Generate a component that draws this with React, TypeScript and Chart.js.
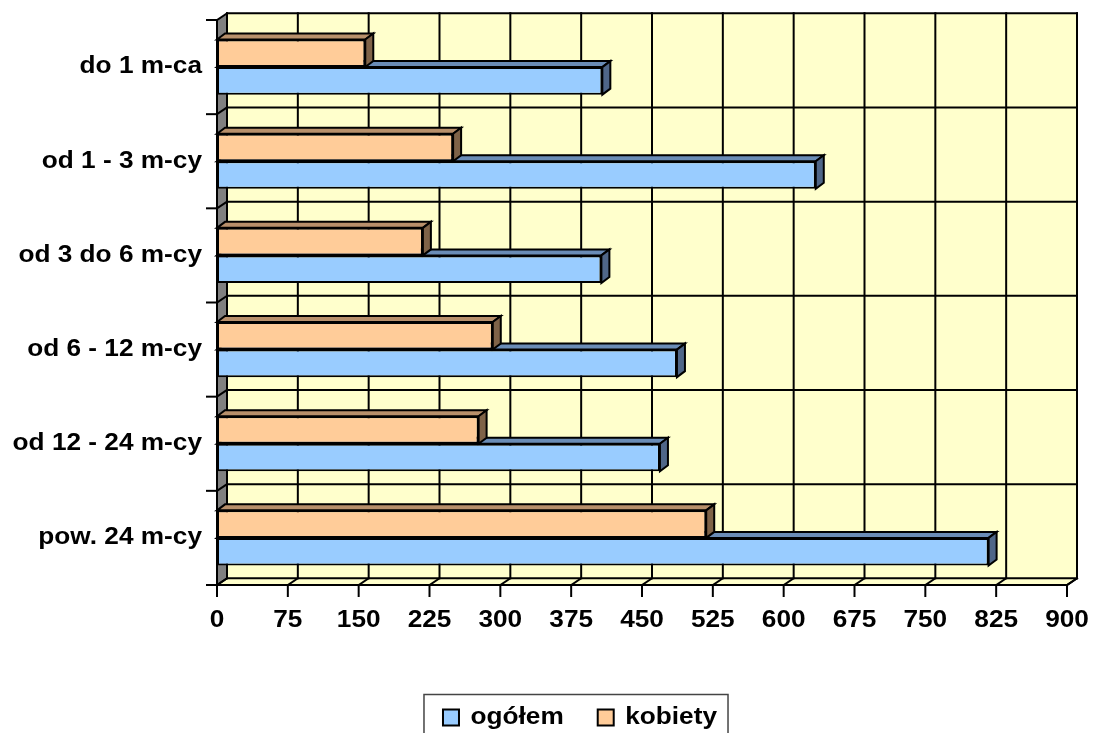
import React, { useEffect, useRef } from "react";
import { Chart, registerables } from "chart.js";

Chart.register(...registerables);

const categories = [
  "do 1 m-ca",
  "od 1 - 3 m-cy",
  "od 3 do 6 m-cy",
  "od 6 - 12 m-cy",
  "od 12 - 24 m-cy",
  "pow. 24 m-cy",
];
const ogolem = [408, 634, 407, 487, 469, 817];
const kobiety = [157, 250, 218, 292, 277, 518];
const xMin = 0;
const xMax = 900;
const xStep = 75;

const FONT = "Arial, 'Liberation Sans', sans-serif";
const STRETCH = 1.14;
const DX = 10;
const DY = 6.7;
const BDX = 8;
const BDY = 6;

const faces: Record<number, { top: string; side: string }> = {
  0: { top: "#B8906B", side: "#7F6348" },
  1: { top: "#6A8CB6", side: "#4F6688" },
};

// horizontally stretched text, as in the reference rendering
const stretchPlugin = {
  id: "stretch",
  beforeInit(chart: any) {
    const ctx = chart.ctx;
    const of = ctx.fillText.bind(ctx);
    const om = ctx.measureText.bind(ctx);
    ctx.fillText = (t: string, x: number, y: number) => {
      ctx.save();
      ctx.translate(x, y);
      ctx.scale(STRETCH, 1);
      of(t, 0, 0);
      ctx.restore();
    };
    ctx.measureText = (t: string) => {
      const m = om(t);
      return {
        width: m.width * STRETCH,
        actualBoundingBoxAscent: m.actualBoundingBoxAscent,
        actualBoundingBoxDescent: m.actualBoundingBoxDescent,
        actualBoundingBoxLeft: m.actualBoundingBoxLeft * STRETCH,
        actualBoundingBoxRight: m.actualBoundingBoxRight * STRETCH,
        fontBoundingBoxAscent: m.fontBoundingBoxAscent,
        fontBoundingBoxDescent: m.fontBoundingBoxDescent,
      };
    };
  },
};

const threeDPlugin = {
  id: "threeD",
  afterLayout(chart: any) {
    const lg = chart.legend;
    if (lg) {
      lg.left = 93;
      lg.width = lg.right - lg.left;
    }
  },
  beforeDatasetsDraw(chart: any) {
    const { ctx, chartArea, scales } = chart;
    const xs = scales.x;
    const ys = scales.y;
    const L = chartArea.left;
    const R = chartArea.right;
    const T = chartArea.top;
    const B = chartArea.bottom;
    const poly = (pts: number[][], fill: string, stroke?: string, lw?: number) => {
      ctx.beginPath();
      ctx.moveTo(pts[0][0], pts[0][1]);
      for (let i = 1; i < pts.length; i++) ctx.lineTo(pts[i][0], pts[i][1]);
      ctx.closePath();
      ctx.fillStyle = fill;
      ctx.fill();
      if (stroke) {
        ctx.strokeStyle = stroke;
        ctx.lineWidth = lw || 1;
        ctx.stroke();
      }
    };
    const line = (x1: number, y1: number, x2: number, y2: number) => {
      ctx.beginPath();
      ctx.moveTo(x1, y1);
      ctx.lineTo(x2, y2);
      ctx.stroke();
    };
    ctx.save();
    ctx.fillStyle = "#FFFFCC";
    ctx.fillRect(L + DX, T - DY, R - L, B - T);
    poly([[L, B], [L + DX, B - DY], [R + DX, B - DY], [R, B]], "#FFFFCC");
    poly([[L, T], [L + DX, T - DY], [L + DX, B - DY], [L, B]], "#808080");
    ctx.strokeStyle = "#000";
    ctx.lineWidth = 2;
    ctx.lineCap = "square";
    for (const t of xs.ticks) {
      const x = xs.getPixelForValue(t.value);
      line(x + DX, T - DY, x + DX, B - DY);
      line(x, B, x + DX, B - DY);
      line(x, B, x, B + 11);
    }
    const n = ys.ticks.length;
    const step = (B - T) / n;
    for (let k = 0; k <= n; k++) {
      const y = T + k * step;
      line(L + DX, y - DY, R + DX, y - DY);
      line(L, y, L + DX, y - DY);
      line(L - 10, y, L, y);
    }
    line(L, T, L, B);
    line(L, B, R, B);
    line(R, B, R + DX, B - DY);

    ctx.lineCap = "butt";
    ctx.lineJoin = "miter";
    for (const di of [1, 0]) {
      const meta = chart.getDatasetMeta(di);
      const f = faces[di];
      for (const el of meta.data) {
        const p = el.getProps(["x", "y", "base", "height"], true);
        const top = p.y - p.height / 2;
        const bottom = p.y + p.height / 2;
        poly([[p.base, top], [p.base + BDX, top - BDY], [p.x + BDX, top - BDY], [p.x, top]], f.top, "#000", 2);
        poly([[p.x, top], [p.x + BDX, top - BDY], [p.x + BDX, bottom - BDY], [p.x, bottom]], f.side, "#000", 2);
      }
    }
    ctx.restore();
  },
  afterDraw(chart: any) {
    const lg = chart.legend;
    if (!lg || !lg.legendHitBoxes || !lg.legendHitBoxes.length) return;
    const hb = lg.legendHitBoxes;
    const first = hb[0];
    const last = hb[hb.length - 1];
    const left = Math.min(first.left, last.left) - 19;
    const right = Math.max(first.left + first.width, last.left + last.width) + 11;
    const cy = first.top + first.height / 2;
    const ctx = chart.ctx;
    ctx.save();
    ctx.strokeStyle = "#444";
    ctx.lineWidth = 1.5;
    ctx.strokeRect(left, cy - 23, right - left, 60);
    ctx.restore();
  },
};

export default function App() {
  const ref = useRef<HTMLCanvasElement>(null);
  useEffect(() => {
    document.body.style.margin = "0";
    const chart = new Chart(ref.current as HTMLCanvasElement, {
      type: "bar",
      data: {
        labels: categories,
        datasets: [
          {
            label: "kobiety",
            data: kobiety,
            backgroundColor: "#FFCC99",
            borderColor: "#000",
            borderWidth: 2,
            borderSkipped: false,
          },
          {
            label: "ogółem",
            data: ogolem,
            backgroundColor: "#99CCFF",
            borderColor: "#000",
            borderWidth: 2,
            borderSkipped: false,
          },
        ],
      },
      options: {
        indexAxis: "y",
        responsive: false,
        animation: false,
        datasets: { bar: { categoryPercentage: 0.585, barPercentage: 1 } },
        layout: { padding: { left: 0, right: 26, top: 20, bottom: 21 } },
        scales: {
          x: {
            min: xMin,
            max: xMax,
            ticks: {
              stepSize: xStep,
              autoSkip: false,
              maxRotation: 0,
              color: "#000",
              padding: 22,
              font: { family: FONT, size: 23, weight: "bold" },
            },
            grid: { display: false, drawTicks: false },
            border: { display: false },
            afterFit: (s: any) => {
              s.height = 87;
              s.paddingLeft = 0;
              s.paddingRight = 0;
            },
          },
          y: {
            ticks: {
              color: "#000",
              padding: 15,
              font: { family: FONT, size: 23, weight: "bold" },
            },
            grid: { display: false, drawTicks: false },
            border: { display: false },
            afterFit: (s: any) => {
              s.width = 217;
              s.paddingTop = 0;
              s.paddingBottom = 0;
            },
          },
        },
        plugins: {
          legend: {
            position: "bottom",
            reverse: true,
            labels: {
              color: "#000",
              boxWidth: 16,
              boxHeight: 16,
              padding: 34,
              font: { family: FONT, size: 23, weight: "bold" },
            },
          },
          tooltip: { enabled: false },
        },
      } as any,
      plugins: [stretchPlugin, threeDPlugin],
    });
    return () => chart.destroy();
  }, []);
  return (
    <div
      style={{
        position: "fixed",
        left: 0,
        top: 0,
        width: 1093,
        height: 733,
        overflow: "hidden",
        background: "#fff",
      }}
    >
      <canvas ref={ref} width={1093} height={760} style={{ display: "block", width: 1093, height: 760 }} />
    </div>
  );
}
